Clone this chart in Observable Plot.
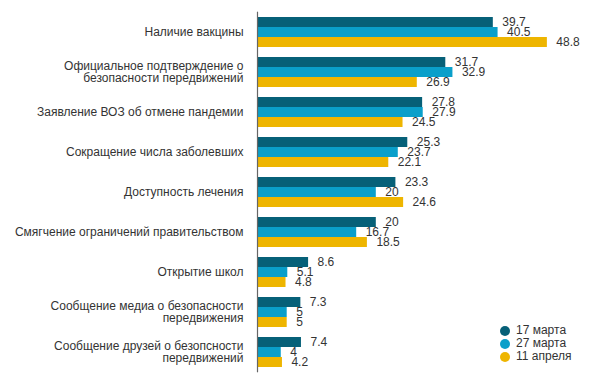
<!DOCTYPE html>
<html>
<head>
<meta charset="utf-8">
<script src="https://cdn.jsdelivr.net/npm/d3@7"></script>
<script src="https://cdn.jsdelivr.net/npm/@observablehq/plot@0.6"></script>
<style>
  body { margin: 0; background: #fff; font-family: "Liberation Sans", Arial, sans-serif; }
  #wrap { position: relative; width: 594px; height: 384px; }
  #legend { position: absolute; left: 500px; top: 324px; font-size: 12px; color: #333; line-height: 13px; }
  #legend div { display: flex; align-items: center; height: 13px; white-space: nowrap; }
  #legend span.dot { display: inline-block; width: 10px; height: 10px; border-radius: 50%; margin-right: 6px; }
</style>
</head>
<body>
<div id="wrap"><div id="legend"></div></div>
<script>
const categories = [
  "Наличие вакцины",
  "Официальное подтверждение о\nбезопасности передвижений",
  "Заявление ВОЗ об отмене пандемии",
  "Сокращение числа заболевших",
  "Доступность лечения",
  "Смягчение ограничений правительством",
  "Открытие школ",
  "Сообщение медиа о безопасности\nпередвижения",
  "Сообщение друзей о безопсности\nпередвижений"
];
const series = ["17 марта", "27 марта", "11 апреля"];
const values17mar = [39.7, 31.7, 27.8, 25.3, 23.3, 20, 8.6, 7.3, 7.4];
const values27mar = [40.5, 32.9, 27.9, 23.7, 20, 16.7, 5.1, 5, 4];
const values11apr = [48.8, 26.9, 24.5, 22.1, 24.6, 18.5, 4.8, 5, 4.2];
const colors = ["#066078", "#0a9fca", "#eeb500"];

const seriesValues = [values17mar, values27mar, values11apr];
const data = [];
categories.forEach((c, i) => {
  series.forEach((s, j) => data.push({category: c, series: s, value: seriesValues[j][i]}));
});

const chart = Plot.plot({
  width: 594,
  height: 384,
  marginLeft: 257,
  marginRight: 40,
  marginTop: 15,
  marginBottom: 15,
  style: {fontFamily: "Liberation Sans, Arial, sans-serif", fontSize: "12px", color: "#333", background: "#fff"},
  x: {domain: [0, 50], axis: null},
  y: {domain: series, padding: 0, axis: null},
  fy: {domain: categories, paddingInner: 0.247, paddingOuter: 0, label: null, axis: "left", tickSize: 0, tickPadding: 14},
  color: {domain: series, range: colors},
  marks: [
    Plot.barX(data, {fy: "category", y: "series", x: "value", fill: "series"}),
    Plot.text(data, {fy: "category", y: "series", x: "value", text: d => String(d.value), dx: 9, textAnchor: "start", fill: "#333", fontSize: 12}),
    Plot.ruleX([0], {stroke: "#666", strokeWidth: 1.2, insetTop: -5.3, insetBottom: -5.3})
  ]
});
document.getElementById("wrap").prepend(chart);

const legend = document.getElementById("legend");
series.forEach((s, j) => {
  const row = document.createElement("div");
  const dot = document.createElement("span");
  dot.className = "dot";
  dot.style.background = colors[j];
  row.appendChild(dot);
  row.appendChild(document.createTextNode(s));
  legend.appendChild(row);
});
</script>
</body>
</html>
